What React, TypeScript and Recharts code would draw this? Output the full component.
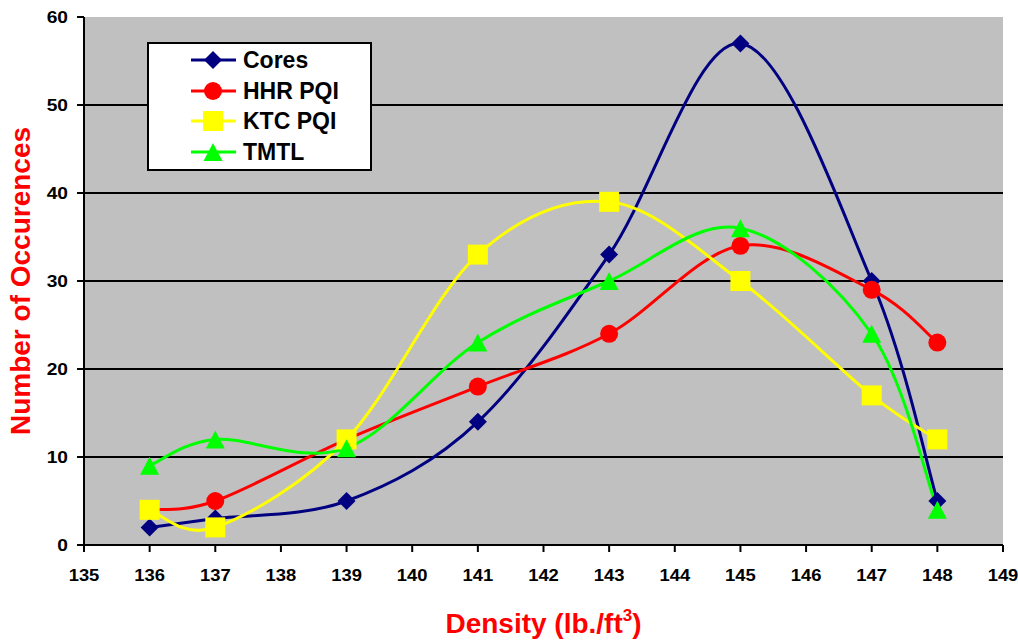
import React from "react";
import { LineChart, Line, XAxis, YAxis, CartesianGrid, Label } from "recharts";

const densities = [136, 137, 139, 141, 143, 145, 147, 148];
const cores = [2, 3, 5, 14, 33, 57, 30, 5];
const hhrPqi = [4, 5, 12, 18, 24, 34, 29, 23];
const ktcPqi = [4, 2, 12, 33, 39, 30, 17, 12];
const tmtl = [9, 12, 11, 23, 30, 36, 24, 4];

const xTicks = [135, 136, 137, 138, 139, 140, 141, 142, 143, 144, 145, 146, 147, 148, 149];
const yTicks = [0, 10, 20, 30, 40, 50, 60];

const FONT = "Arial, 'Liberation Sans', sans-serif";

const data = densities.map((d, i) => ({
  density: d,
  cores: cores[i],
  hhr: hhrPqi[i],
  ktc: ktcPqi[i],
  tmtl: tmtl[i],
}));

// excel-like smoothed line (catmull-rom through every point)
function excelSmooth(context: any) {
  let pts: number[][] = [];
  return {
    areaStart() {},
    areaEnd() {},
    lineStart() {
      pts = [];
    },
    lineEnd() {
      if (!pts.length) return;
      context.moveTo(pts[0][0], pts[0][1]);
      for (let i = 0; i < pts.length - 1; i++) {
        const p0 = pts[i - 1] || pts[i];
        const p1 = pts[i];
        const p2 = pts[i + 1];
        const p3 = pts[i + 2] || p2;
        const t = 1 / 6;
        context.bezierCurveTo(
          p1[0] + (p2[0] - p0[0]) * t,
          p1[1] + (p2[1] - p0[1]) * t,
          p2[0] - (p3[0] - p1[0]) * t,
          p2[1] - (p3[1] - p1[1]) * t,
          p2[0],
          p2[1]
        );
      }
    },
    point(x: number, y: number) {
      pts.push([+x, +y]);
    },
  };
}

type Shape = "diamond" | "circle" | "square" | "triangle";

function Marker({ cx, cy, shape, color }: { cx: number; cy: number; shape: Shape; color: string }) {
  if (cx == null || cy == null) return null;
  if (shape === "diamond")
    return <polygon points={`${cx},${cy - 9} ${cx + 9},${cy} ${cx},${cy + 9} ${cx - 9},${cy}`} fill={color} />;
  if (shape === "circle") return <circle cx={cx} cy={cy} r={9} fill={color} />;
  if (shape === "square") return <rect x={cx - 10} y={cy - 10} width={20} height={20} fill={color} />;
  return <polygon points={`${cx},${cy - 9} ${cx + 9.5},${cy + 9} ${cx - 9.5},${cy + 9}`} fill={color} />;
}

const series = [
  { key: "cores", name: "Cores", color: "#000080", shape: "diamond" as Shape },
  { key: "hhr", name: "HHR PQI", color: "#FF0000", shape: "circle" as Shape },
  { key: "ktc", name: "KTC PQI", color: "#FFFF00", shape: "square" as Shape },
  { key: "tmtl", name: "TMTL", color: "#00FF00", shape: "triangle" as Shape },
];

// the reference's tick text is a bit wide, so stretch it horizontally
function XTick(props: any) {
  const { x, y, payload } = props;
  return (
    <text
      transform={`translate(${x} ${y + 27}) scale(1.15 1)`}
      textAnchor="middle"
      fill="#000"
      fontSize={16}
      fontWeight={700}
      fontFamily={FONT}
    >
      {payload.value}
    </text>
  );
}

function YTick(props: any) {
  const { x, y, payload } = props;
  return (
    <text
      transform={`translate(${x} ${y + 6}) scale(1.2 1)`}
      textAnchor="end"
      fill="#000"
      fontSize={16}
      fontWeight={700}
      fontFamily={FONT}
    >
      {payload.value}
    </text>
  );
}

function XLabel(props: any) {
  const vb = props.viewBox;
  return (
    <text
      x={vb.x + vb.width / 2}
      y={vb.y + 88}
      textAnchor="middle"
      fill="#FF0000"
      fontSize={28}
      fontWeight={700}
      fontFamily={FONT}
    >
      Density (lb./ft
      <tspan fontSize={17} dy={-12}>3</tspan>
      <tspan dy={12}>)</tspan>
    </text>
  );
}

function YLabel(props: any) {
  const vb = props.viewBox;
  const cx = 20;
  const cy = vb.y + vb.height / 2;
  return (
    <text
      x={cx}
      y={cy}
      transform={`rotate(-90 ${cx} ${cy})`}
      textAnchor="middle"
      dominantBaseline="central"
      fill="#FF0000"
      fontSize={28}
      fontWeight={700}
      fontFamily={FONT}
    >
      Number of Occurences
    </text>
  );
}

export default function App() {
  return (
    <div style={{ position: "absolute", left: 0, top: 0, width: 1018, height: 641, background: "#fff" }}>
      <LineChart width={1018} height={641} data={data} margin={{ top: 17, right: 15, bottom: 0, left: 0 }}>
        <CartesianGrid
          vertical={false}
          fill="#C0C0C0"
          stroke="#000"
          strokeWidth={2}
          horizontalValues={[10, 20, 30, 40, 50]}
        />
        <XAxis
          dataKey="density"
          type="number"
          domain={[135, 149]}
          ticks={xTicks}
          interval={0}
          height={96}
          axisLine={{ stroke: "#000", strokeWidth: 2 }}
          tickLine={{ stroke: "#000", strokeWidth: 2 }}
          tickSize={7}
          tickMargin={2}
          tick={<XTick />}
        >
          <Label content={<XLabel />} />
        </XAxis>
        <YAxis
          type="number"
          domain={[0, 60]}
          ticks={yTicks}
          interval={0}
          width={84}
          axisLine={{ stroke: "#000", strokeWidth: 2 }}
          tickLine={{ stroke: "#000", strokeWidth: 2 }}
          tickSize={7}
          tickMargin={9}
          tick={<YTick />}
        >
          <Label content={<YLabel />} />
        </YAxis>
        {series.map((s) => (
          <Line
            key={s.key}
            dataKey={s.key}
            name={s.name}
            type={excelSmooth as any}
            stroke={s.color}
            strokeWidth={3}
            isAnimationActive={false}
            dot={(p: any) => <Marker key={`${s.key}-${p.index}`} cx={p.cx} cy={p.cy} shape={s.shape} color={s.color} />}
            activeDot={false}
          />
        ))}
      </LineChart>
      <div
        style={{
          position: "absolute",
          left: 147,
          top: 42,
          width: 221,
          height: 124,
          border: "2px solid #000",
          background: "#fff",
          fontFamily: FONT,
          fontWeight: 700,
          fontSize: 23,
          paddingTop: 1,
          boxSizing: "content-box",
        }}
      >
        {series.map((s) => (
          <div key={s.key} style={{ display: "flex", alignItems: "center", height: 30.5 }}>
            <svg width={94} height={30} style={{ flex: "none" }}>
              <line x1={42} y1={15} x2={87} y2={15} stroke={s.color} strokeWidth={3} />
              <Marker cx={64} cy={15} shape={s.shape} color={s.color} />
            </svg>
            <span style={{ color: "#000", lineHeight: "30px" }}>{s.name}</span>
          </div>
        ))}
      </div>
    </div>
  );
}
